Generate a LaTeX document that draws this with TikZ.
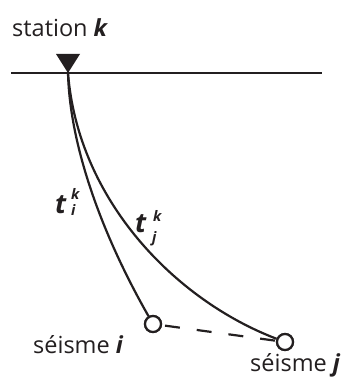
\documentclass[tikz,border=0pt]{standalone}
\usepackage{fontspec}
\setmainfont{Open Sans}
\definecolor{ink}{HTML}{231F20}
\newcommand{\scr}[1]{{\fontsize{14.5}{15}\selectfont #1}}
\newcommand{\ttlabel}[6]{\makebox[0pt][l]{\hspace{#2}\raisebox{#3}{\scr{#1}}}\makebox[0pt][l]{\hspace{#5}\raisebox{#6}{\scr{#4}}}t}
\begin{document}
\begin{tikzpicture}[x=1pt,y=-1pt,
  lbl/.style={inner sep=0pt,anchor=base west,text=ink,font=\fontsize{23.5}{26}\selectfont},
  tlbl/.style={inner sep=0pt,anchor=base west,text=ink,font=\fontsize{27}{29}\selectfont\bfseries\itshape},
  ray/.style={draw=ink,line width=2.2pt},
  quake/.style={circle,draw=ink,fill=white,line width=2.2pt,minimum size=16pt,inner sep=0pt}]
\useasboundingbox (0,0) rectangle (358,385);
% surface
\coordinate (L) at (11,73);
\coordinate (R) at (322,73);
\draw[draw=ink,line width=2.6pt] (L) -- (R);
% station
\coordinate (st) at (68,73);
\fill[ink] (56,54) -- (80,54) -- (st) -- cycle;
\node[lbl] (stlab) at (12,37) {station \textbf{\textit{k}}};
% rays
\node[quake] (ei) at (153,324) {};
\node[quake] (ej) at (285,342) {};
\draw[ray] (st) .. controls (70,150) and (105,240) .. (ei);
\draw[ray] (st) .. controls (78,200) and (175,300) .. (ej);
\draw[draw=ink,line width=2.2pt,dash pattern=on 15pt off 17pt,dash phase=-3pt] (ei) -- (ej);
\node[quake] at (ei) {};
\node[quake] at (ej) {};
% labels
\node[lbl] (li) at (33,353) {séisme \textbf{\textit{i}}};
\node[lbl] (lj) at (250,371) {séisme \textbf{\textit{j}}};
\node[tlbl] (ti) at (55,213) {\ttlabel{k}{16pt}{14pt}{i}{16pt}{-2pt}};
\node[tlbl] (tj) at (135,232) {\ttlabel{k}{18pt}{11pt}{j}{17pt}{-10pt}};
\end{tikzpicture}
\end{document}
